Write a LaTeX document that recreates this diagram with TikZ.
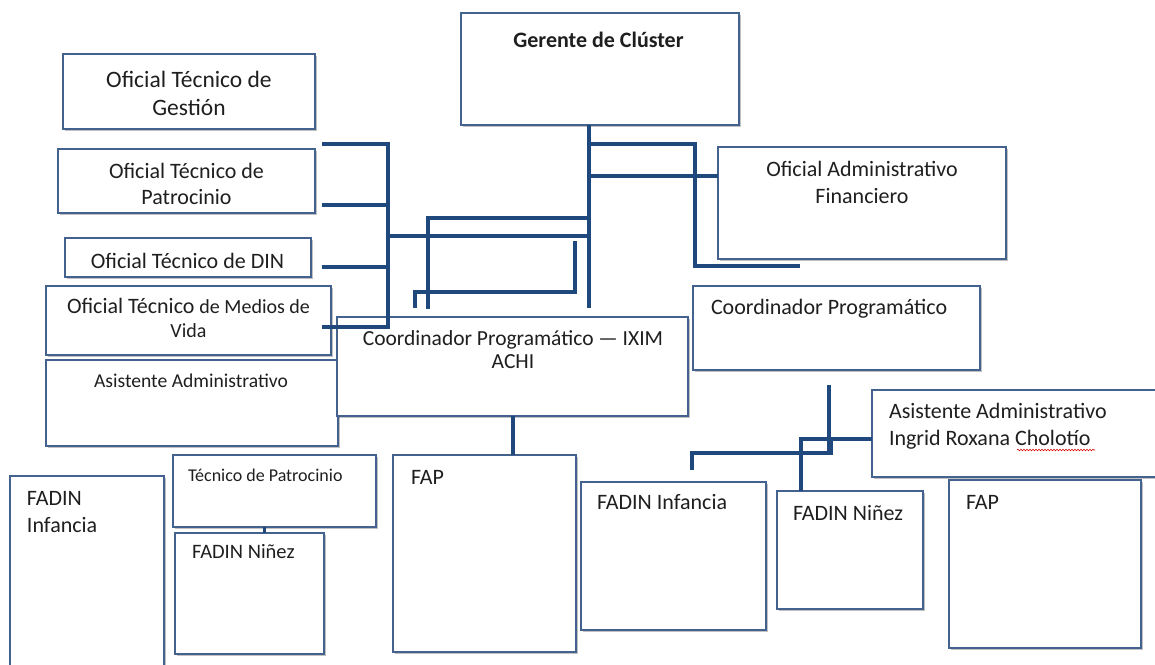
\documentclass[tikz,border=0pt]{standalone}
\usepackage{fontspec}
\setmainfont{Carlito}
\usetikzlibrary{shadows,decorations.pathmorphing}
\definecolor{boxc}{RGB}{68,98,142}
\definecolor{linec}{RGB}{31,73,125}
\begin{document}
\begin{tikzpicture}[x=1pt,y=-1pt,
  box/.style={draw=boxc, line width=1.5pt, fill=white, anchor=north west, inner sep=0pt, outer sep=0pt,
    drop shadow={shadow xshift=1.6pt, shadow yshift=-1.8pt, opacity=0.35, fill=black!70}},
  txt/.style={inner sep=0pt, outer sep=0pt, text=black!88, font=\fontsize{22}{27}\selectfont},
  conn/.style={draw=linec, line width=4pt}]
\useasboundingbox (0,0) rectangle (1155,664);

% ---------- boxes ----------
\node[box, minimum width=252pt, minimum height=75pt]  (gestion) at (63,54) {};
\node[box, minimum width=257pt, minimum height=64pt]  (patroc)  at (58,149) {};
\node[box, minimum width=246pt, minimum height=39pt]  (din)     at (65,238) {};
\node[box, minimum width=285pt, minimum height=69pt]  (medios)  at (46,286) {};
\node[box, minimum width=292pt, minimum height=86pt]  (asistL)  at (46,360) {};
\node[box, minimum width=278pt, minimum height=112pt] (gerente) at (461,13) {};
\node[box, minimum width=288pt, minimum height=112pt] (oaf)     at (718,147) {};
\node[box, minimum width=287pt, minimum height=84pt]  (coordR)  at (693,286) {};
\node[box, minimum width=351pt, minimum height=99pt]  (ixim)    at (337,317) {};
\node[box, minimum width=295pt, minimum height=87pt]  (ingrid)  at (872,390) {};
\node[box, minimum width=154pt, minimum height=205pt] (fadinIL) at (10,476) {};
\node[box, minimum width=203pt, minimum height=72pt]  (tecpat)  at (173,455) {};
\node[box, minimum width=149pt, minimum height=121pt] (fadinNL) at (175,533) {};
\node[box, minimum width=183pt, minimum height=197pt] (fapM)    at (393,455) {};
\node[box, minimum width=185pt, minimum height=148pt] (fadinIR) at (581,482) {};
\node[box, minimum width=146pt, minimum height=118pt] (fadinNR) at (777,491) {};
\node[box, minimum width=192pt, minimum height=168pt] (fapR)    at (949,480) {};

% ---------- texts (anchor=base is the last line's baseline) ----------
\node[txt, anchor=base, align=center, font=\fontsize{23.5}{28}\selectfont] (gestion-t) at (189,115) {Oficial Técnico de\\Gestión};
\node[txt, anchor=base, align=center, font=\fontsize{22}{26}\selectfont] (patroc-t) at (186.5,204) {Oficial Técnico de\\Patrocinio};
\node[txt, anchor=base] (din-t) at (187.5,268) {Oficial Técnico de DIN};
\node[txt, anchor=base, align=center, font=\fontsize{22}{24}\selectfont] (medios-t) at (188.5,337) {Oficial Técnico {\fontsize{20}{24}\selectfont de Medios de}\\{\fontsize{20}{24}\selectfont Vida}};
\node[txt, anchor=base, font=\fontsize{19.6}{24}\selectfont] (asistL-t) at (191,387) {Asistente Administrativo};
\node[txt, anchor=base, font=\bfseries\fontsize{22}{27}\selectfont] (gerente-t) at (598.5,47) {Gerente de Clúster};
\node[txt, anchor=base, align=center] (oaf-t) at (862,203) {Oficial Administrativo\\Financiero};
\node[txt, anchor=base west] (coordR-t) at (711,314) {Coordinador Programático};
\node[txt, anchor=base, align=center, font=\fontsize{21.5}{22.5}\selectfont] (ixim-t) at (513,368) {Coordinador Programático — IXIM\\ACHI};
\node[txt, anchor=base west, align=left] (ingrid-t) at (889,445) {Asistente Administrativo\\Ingrid Roxana Cholotío};
\node[txt, anchor=base west, align=left] (fadinIL-t) at (27,532) {FADIN\\Infancia};
\node[txt, anchor=base west, font=\fontsize{18}{22}\selectfont] (tecpat-t) at (188,481) {Técnico de Patrocinio};
\node[txt, anchor=base west, font=\fontsize{20.5}{24}\selectfont] (fadinNL-t) at (192,558) {FADIN Niñez};
\node[txt, anchor=base west] (fapM-t) at (411,484) {FAP};
\node[txt, anchor=base west] (fadinIR-t) at (597,509) {FADIN Infancia};
\node[txt, anchor=base west] (fadinNR-t) at (793,520) {FADIN Niñez};
\node[txt, anchor=base west] (fapR-t) at (966,509) {FAP};

% spell-check underline
\draw[red!85!black, line width=0.6pt, decorate, decoration={snake, amplitude=0.8pt, segment length=3pt}] (1017,450) -- (1095,450);

% ---------- connector coordinates ----------
\coordinate (gbot) at (589,308);
\coordinate (j1) at (589,144);
\coordinate (oafend) at (800,266);
\coordinate (j2) at (589,176);
\coordinate (j3) at (589,218);
\coordinate (e4) at (428,309);
\coordinate (j4) at (589,236);
\coordinate (s6) at (575,241);
\coordinate (e6) at (415,308);
\coordinate (lt) at (388,144);
\coordinate (lb) at (388,327);
\coordinate (st1) at (322,144);
\coordinate (st2) at (322,205);
\coordinate (st3) at (322,267);
\coordinate (st4) at (322,327);
\coordinate (r1) at (829,385);
\coordinate (r2) at (831,453);
\coordinate (r3) at (692,470);
\coordinate (r4) at (801,439);
\coordinate (tp) at (264,527);

% ---------- connectors ----------
\draw[conn] (gerente.south -| gbot) -- (gbot);
\draw[conn] (j1) -- ++(106,0) |- (oafend);
\draw[conn] (j2) -- (j2 -| oaf.west);
\draw[conn] (j3) -| (e4);
\draw[conn] (j4) -- (j4 -| lt);
\draw[conn] (s6) -- ++(0,51) -| (e6);
\draw[conn] (st1) -- (lt) -- (lb) -- (st4);
\draw[conn] (st2) -- (st2 -| lt);
\draw[conn] (st3) -- (st3 -| lt);
\draw[conn] (ixim.south) -- (ixim.south |- fapM.north);
\draw[conn, line width=3pt] (tp) -- (tp |- fadinNL.north);
\draw[conn] (r1) -- (r1 |- r2);
\draw[conn] (r3) |- (r2) -- (r2 |- r4);
\draw[conn] (r4 -| ingrid.west) -- (r4) -- (r4 |- fadinNR.north);
\end{tikzpicture}
\end{document}
